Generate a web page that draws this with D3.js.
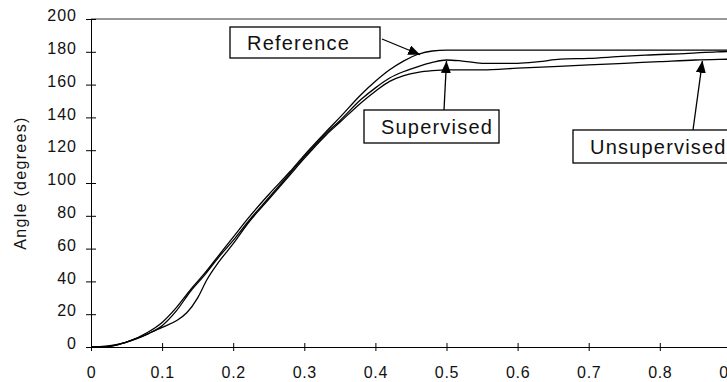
<!DOCTYPE html>
<html>
<head>
<meta charset="utf-8">
<script src="https://cdn.jsdelivr.net/npm/d3@7"></script>
<style>
    html, body {margin: 0; padding: 0; background: #fff;}
    svg {display: block;}
    text {font-family: Arial, "Liberation Sans", sans-serif; fill: #111;}
</style>
</head>
<body>
<div id="js-chart"></div>
<script>
// 数据
var xTicks = [0, 0.1, 0.2, 0.3, 0.4, 0.5, 0.6, 0.7, 0.8, 0.9];
var yTicks = [0, 20, 40, 60, 80, 100, 120, 140, 160, 180, 200];

var refX = [0, 0.02, 0.05, 0.08, 0.1, 0.12, 0.14, 0.16, 0.18, 0.2, 0.22, 0.25, 0.28, 0.3, 0.33, 0.35, 0.38, 0.4, 0.42, 0.44, 0.46, 0.48, 0.5, 0.6, 0.7, 0.8, 0.9, 0.95];
var refY = [0, 0.5, 3, 9, 15, 24, 35, 45, 56, 67, 78, 93, 107, 117, 131, 140, 154, 162, 169, 174.5, 178.5, 180.5, 181, 181, 181, 181, 181, 181];

var supX = [0, 0.02, 0.05, 0.08, 0.1, 0.12, 0.14, 0.16, 0.18, 0.2, 0.22, 0.25, 0.28, 0.3, 0.33, 0.35, 0.38, 0.4, 0.42, 0.44, 0.46, 0.48, 0.5, 0.52, 0.55, 0.6, 0.63, 0.66, 0.7, 0.74, 0.78, 0.84, 0.88, 0.95];
var supY = [0, 0, 3, 8, 13, 22, 34, 44, 55, 65, 76, 91, 106, 116, 130, 138, 151, 158, 164, 168, 171, 173.5, 175, 174.5, 173, 173, 174, 175.5, 176, 177, 178, 179, 180, 180.5];

var unsX = [0, 0.02, 0.05, 0.08, 0.1, 0.12, 0.135, 0.15, 0.163, 0.18, 0.2, 0.22, 0.25, 0.28, 0.3, 0.33, 0.35, 0.38, 0.4, 0.42, 0.44, 0.46, 0.48, 0.5, 0.55, 0.6, 0.65, 0.7, 0.75, 0.8, 0.85, 0.9, 0.95];
var unsY = [0, 0, 3, 8, 12, 16, 21, 30, 41, 52, 63, 75, 90, 105, 115, 129, 137, 149, 156, 162, 165.5, 167.5, 168.5, 169, 169, 170, 171, 172, 173, 174, 175, 175.5, 176];

var labels = ["Reference", "Supervised", "Unsupervised"];
var tipX = [0.463, 0.5, 0.86];

$run();

function $run() {
    var width = 727, height = 382;

    var svg = d3.select("#js-chart").append("svg")
        .attr("width", width)
        .attr("height", height);

    var x = d3.scaleLinear().domain([0, 1]).range([91, 802]);
    var y = d3.scaleLinear().domain([0, 200]).range([347, 19]);

    // 箭头
    svg.append("defs").append("marker")
        .attr("id", "arw")
        .attr("viewBox", "0 0 12 10")
        .attr("refX", 12).attr("refY", 5)
        .attr("markerWidth", 12).attr("markerHeight", 10)
        .attr("markerUnits", "userSpaceOnUse")
        .attr("orient", "auto")
        .append("path")
        .attr("d", "M0,0 L12,5 L0,10 Z")
        .attr("fill", "#000");

    // 上边框
    svg.append("line")
        .attr("x1", x(0)).attr("x2", width)
        .attr("y1", y(200)).attr("y2", y(200))
        .attr("stroke", "#333").attr("stroke-width", 1);

    // y 轴
    var yAxis = svg.append("g").attr("transform", "translate(" + x(0) + ",0)")
        .call(d3.axisLeft(y).tickValues(yTicks).tickSizeInner(5).tickSizeOuter(0).tickPadding(9));
    yAxis.selectAll(".tick line").attr("x2", 5).attr("x1", -5);
    yAxis.select(".domain").attr("stroke", "#000");
    yAxis.selectAll("text")
        .attr("font-size", 16).attr("letter-spacing", 1).attr("dy", "0.1em")
        .attr("font-family", "Arial, 'Liberation Sans', sans-serif").attr("fill", "#111");

    // x 轴
    var xAxis = svg.append("g").attr("transform", "translate(0," + y(0) + ")")
        .call(d3.axisBottom(x).tickValues(xTicks)
            .tickFormat(function (d) { return d === 0 ? "0" : d.toFixed(1); })
            .tickSizeInner(4).tickSizeOuter(0).tickPadding(16));
    xAxis.selectAll(".tick line").attr("y1", -4).attr("y2", 4);
    xAxis.select(".domain").attr("stroke", "#000");
    xAxis.selectAll("text")
        .attr("font-size", 16).attr("letter-spacing", 0.7)
        .attr("font-family", "Arial, 'Liberation Sans', sans-serif").attr("fill", "#111");

    // y 轴标题
    svg.append("text")
        .attr("transform", "translate(26,183) rotate(-90)")
        .attr("text-anchor", "middle")
        .attr("font-size", 16)
        .attr("letter-spacing", 1.3)
        .text("Angle (degrees)");

    // 曲线
    var line = d3.line()
        .x(function (d) { return x(d[0]); })
        .y(function (d) { return y(d[1]); })
        .curve(d3.curveMonotoneX);

    var series = [d3.zip(refX, refY), d3.zip(supX, supY), d3.zip(unsX, unsY)];

    svg.append("g").selectAll("path")
        .data(series)
        .enter().append("path")
        .attr("d", line)
        .attr("fill", "none")
        .attr("stroke", "#000")
        .attr("stroke-width", 1.3);

    // 标注框
    var boxes = [
        {bx: 230, by: 27, bw: 150, bh: 31, sx: 382, sy: 39},
        {bx: 364, by: 110, bw: 135, bh: 33, sx: 444, sy: 110},
        {bx: 573, by: 130, bw: 165, bh: 33, sx: 693, sy: 130}
    ];

    boxes.forEach(function (b, i) {
        var s = series[i];
        var ty = d3.scaleLinear().domain(s.map(function (d) { return d[0]; }))
            .range(s.map(function (d) { return d[1]; }));
        var px = x(tipX[i]), py = y(ty(tipX[i])) + 1;

        svg.append("rect")
            .attr("x", b.bx).attr("y", b.by)
            .attr("width", b.bw).attr("height", b.bh)
            .attr("fill", "#fff").attr("stroke", "#000").attr("stroke-width", 1.3);

        svg.append("text")
            .attr("x", b.bx + 17).attr("y", b.by + b.bh / 2 + 7)
            .attr("font-size", 20)
            .attr("letter-spacing", 1.2)
            .text(labels[i]);

        svg.append("line")
            .attr("x1", b.sx).attr("y1", b.sy)
            .attr("x2", px).attr("y2", py)
            .attr("stroke", "#000").attr("stroke-width", 1.3)
            .attr("marker-end", "url(#arw)");
    });
}
</script>
</body>
</html>
